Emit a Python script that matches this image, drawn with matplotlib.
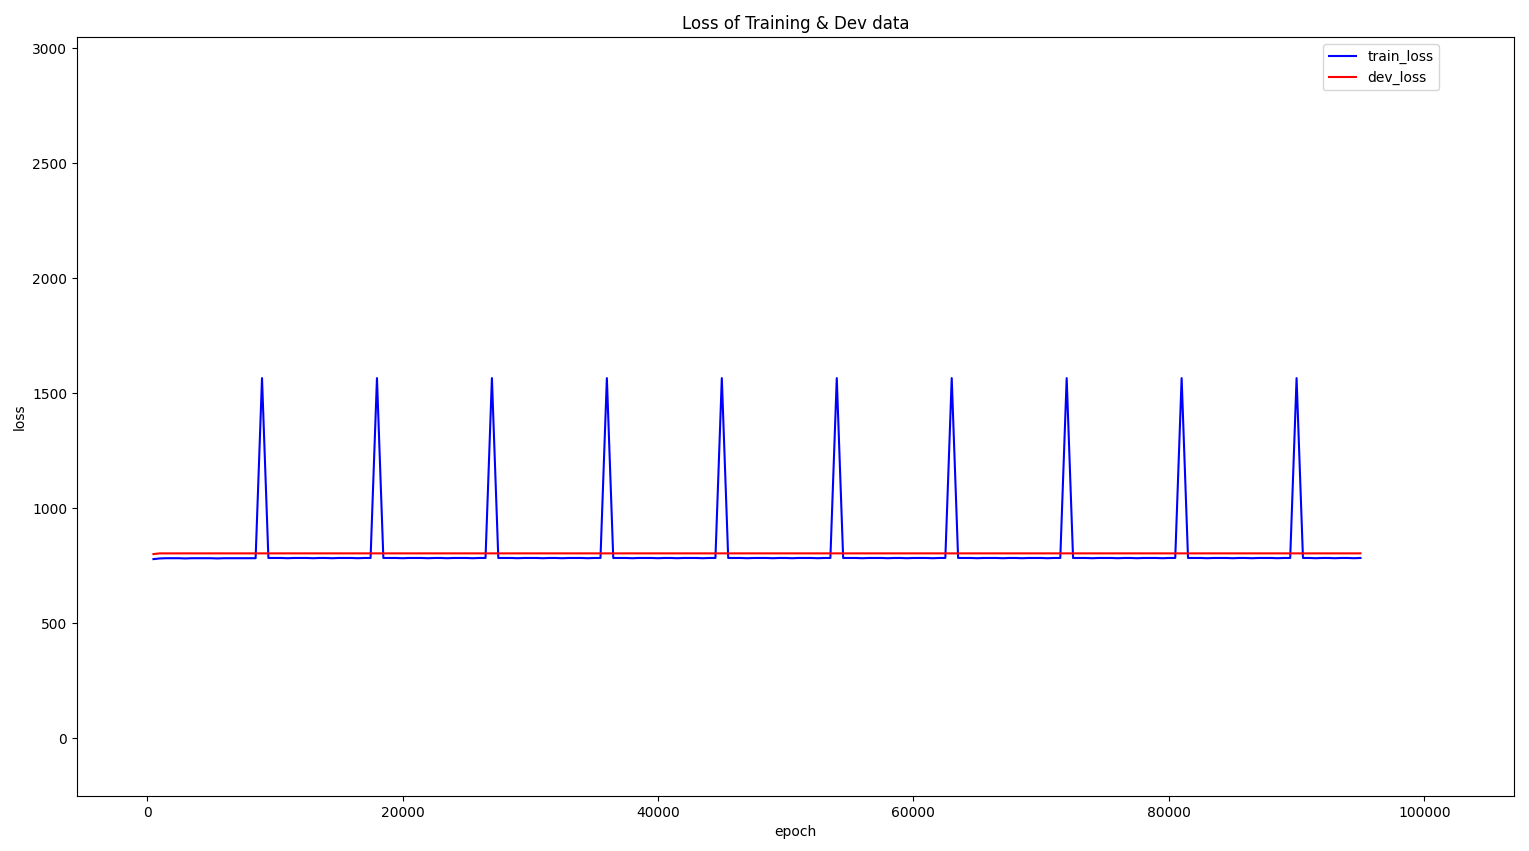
import numpy as np
import matplotlib.pyplot as plt

# epochs sampled every 500 steps
epochs = list(range(500, 95001, 500))

# one 9000-epoch cycle of train loss (spike at the 18th sample)
first_cycle = [778, 781, 782, 782, 782, 781, 782, 782, 782, 782, 781, 782, 782, 782, 782, 782, 782, 1565]
cycle = [783, 783, 783, 782, 783, 783, 783, 782, 783, 783, 782, 783, 783, 783, 782, 783, 783, 1565]
train_loss = first_cycle + cycle * 9 + [783, 783, 782, 783, 783, 782, 783, 783, 782, 783, 783, 783, 783, 782, 783, 783][:190 - 18 * 10]
train_loss = train_loss[:len(epochs)]
while len(train_loss) < len(epochs):
    train_loss.append(783)

dev_loss = [800] + [803] * (len(epochs) - 1)

fig, ax = plt.subplots(figsize=(15.29, 8.51), dpi=100)
fig.subplots_adjust(left=0.0504, right=0.990, top=0.9565, bottom=0.0646)

ax.plot(epochs, train_loss, 'b', label='train_loss')
ax.plot(epochs, dev_loss, 'r', label='dev_loss')
ax.set_title('Loss of Training & Dev data')
ax.set_xlabel('epoch')
ax.set_ylabel('loss')
ax.set_xlim(-5480, 107000)
ax.set_ylim(-252, 3048)
ax.legend(loc='upper right', bbox_to_anchor=(0.953, 1.0))

plt.savefig('out.png')
